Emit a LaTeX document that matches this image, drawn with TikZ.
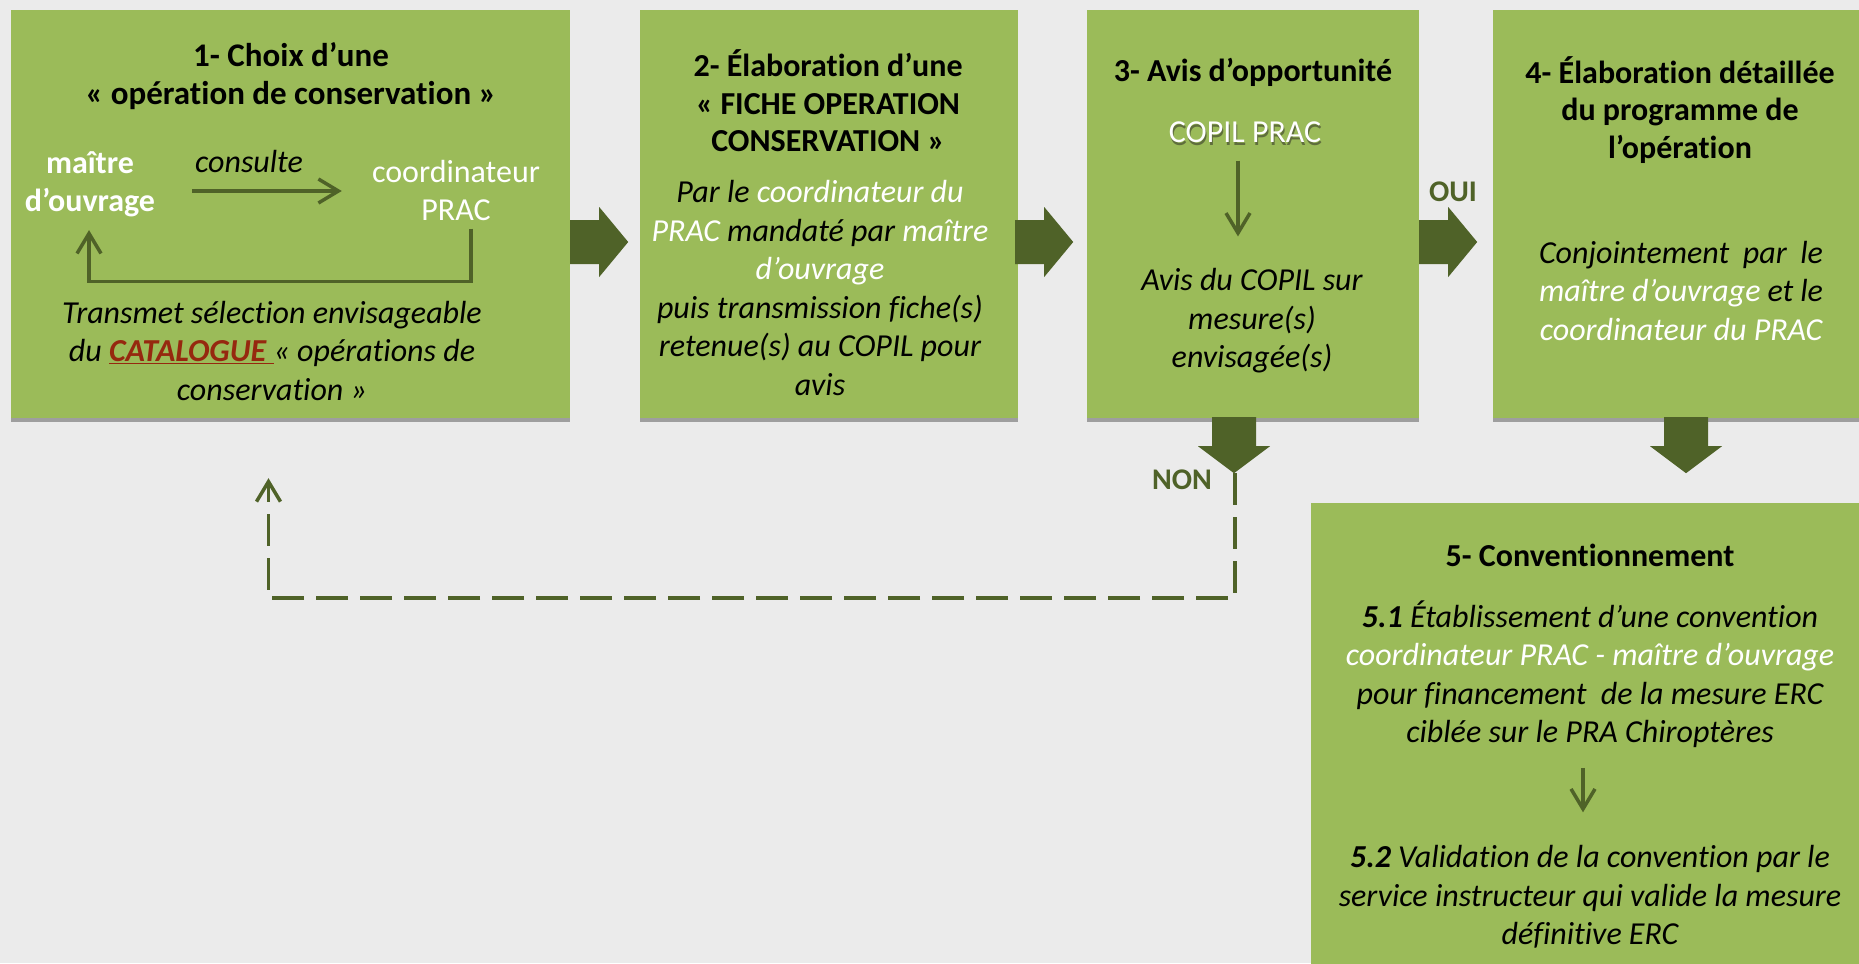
\documentclass[tikz,border=0pt]{standalone}
\usepackage{fontspec}
\setmainfont{Carlito}[Ligatures={TeX,NoCommon}]
\usetikzlibrary{calc,arrows.meta,shadows}
\definecolor{bg}{HTML}{EBEBEB}
\definecolor{grn}{HTML}{9BBB59}
\definecolor{dk}{HTML}{4F6228}
\definecolor{shd}{HTML}{9E9E9E}
\definecolor{catred}{RGB}{150,40,15}
\definecolor{copilsh}{RGB}{95,110,60}
\begin{document}
\begin{tikzpicture}[x=1pt,y=-1pt,
  box/.style={fill=grn, draw=none, inner sep=0pt,
    drop shadow={shadow xshift=0pt, shadow yshift=-4pt, fill=shd, opacity=1}},
  txt/.style={font=\fontsize{32}{37.5}\selectfont, align=center, inner sep=0pt},
  ttl/.style={txt, font=\fontsize{32}{37.5}\selectfont\bfseries},
  itx/.style={txt, font=\fontsize{32}{38.5}\selectfont\itshape},
  lbl/.style={font=\fontsize{30}{32}\selectfont\bfseries, text=dk, inner sep=0pt},
  conn/.style={draw=dk, line width=3.5pt, -{Straight Barb[length=20pt,width=24pt]}},
  dconn/.style={conn, dash pattern=on 32pt off 12pt},
  rblock/.pic={\fill[dk] (0,-22) -- (29,-22) -- (29,-35) -- (58,0) -- (29,35) -- (29,22) -- (0,22) -- cycle;},
  dblock/.pic={\fill[dk] (-22,0) -- (22,0) -- (22,29) -- (36,29) -- (0,56) -- (-36,29) -- (-22,29) -- cycle;}
]
\useasboundingbox (0,0) rectangle (1859,963);
\clip (0,0) rectangle (1859,963);
\fill[bg] (0,0) rectangle (1859,963);

% boxes
\node[box, minimum width=559pt, minimum height=408pt] (b1) at (290.5,214) {};
\node[box, minimum width=378pt, minimum height=408pt] (b2) at (829,214) {};
\node[box, minimum width=332pt, minimum height=408pt] (b3) at (1253,214) {};
\node[box, minimum width=375pt, minimum height=408pt] (b4) at (1680.5,214) {};
\node[box, minimum width=558pt, minimum height=497pt] (b5) at (1590,751.5) {};

% block arrows
\pic at ($(b1.east)+(0,28)$) {rblock};
\pic at ($(b2.east)+(-3,28)$) {rblock};
\pic at ($(b3.east)+(0,28)$) {rblock};
\pic at ($(b3.south)+(-19,-1)$) {dblock};
\pic at ($(b4.south)+(5.5,-1)$) {dblock};
\coordinate (nontip) at ($(b3.south)+(-18,55)$);

% box 1
\node[ttl, font=\fontsize{33}{37.5}\selectfont\bfseries] (t1) at (291,76) {1- Choix d’une\\« opération de conservation »};
\node[ttl, text=white] (mo) at (90,184.5) {maître\\d’ouvrage};
\node[txt, text=white] (co) at (456,190.5) {coordinateur\\PRAC};
\node[itx] (cs) at (249,162) {consulte};
\draw[conn, shorten <=37pt, shorten >=30pt] (mo.east |- 0,191) -- (co.west |- 0,191);
\draw[conn] ($(co.south)+(15,8)$) -- ++(0,53) -| ($(mo.south)+(-1,13)$);
\node[itx] (x1) at (272,351) {Transmet sélection envisageable\\du \textcolor{catred}{\bfseries\underline{CATALOGUE }}« opérations de\\conservation »};

% box 2
\node[ttl] (t2) at (828,101) {2- Élaboration d’une\\« FICHE OPERATION\\CONSERVATION »};
\node[itx] (x2) at (820,288) {Par le \textcolor{white}{coordinateur du}\\\textcolor{white}{PRAC} mandaté par \textcolor{white}{maître}\\\textcolor{white}{d’ouvrage}\\puis transmission fiche(s)\\retenue(s) au COPIL pour\\avis};

% box 3
\node[ttl] (t3) at (1253,72) {3- Avis d’opportunité};
\node[txt, text=copilsh] (cps) at (1246,135) {COPIL PRAC};
\node[txt, text=white] (cp) at (1245,132) {COPIL PRAC};
\node[itx] (x3) at (1252,321) {Avis du COPIL sur\\mesure(s)\\envisagée(s)};
\draw[conn] ($(cp.south)+(-7,18)$) -- ($(x3.north)+(-14,-32)$);
\node[lbl] (oui) at (1453,192) {OUI};
\node[lbl] (non) at (1182,480) {NON};

% box 4
\node[ttl] (t4) at (1680,110) {4- Élaboration détaillée\\du programme de\\l’opération};
\node[itx] (x4) at (1681,291) {\makebox[284pt][s]{Conjointement par le}\\\makebox[284pt][s]{\textcolor{white}{maître d’ouvrage} et le}\\\textcolor{white}{coordinateur du PRAC}};

% box 5
\node[ttl] (t5) at (1590,555) {5- Conventionnement};
\node[itx] (s51) at (1590,674) {\textbf{5.1} Établissement d’une convention\\\textcolor{white}{coordinateur PRAC - maître d’ouvrage}\\pour financement\ \ de la mesure ERC\\ciblée sur le PRA Chiroptères};
\node[itx] (s52) at (1590,897) {\textbf{5.2} Validation de la convention par le\\service instructeur qui valide la mesure\\définitive ERC};
\draw[conn] ($(s51.south)+(-7,20)$) -- ($(s52.north)+(-7,-33)$);

% dashed return
\coordinate (ret) at ($(b1.south)+(-22,60)$);
\draw[dconn] (nontip) -- ++(0,125) -| (ret);
\end{tikzpicture}
\end{document}
